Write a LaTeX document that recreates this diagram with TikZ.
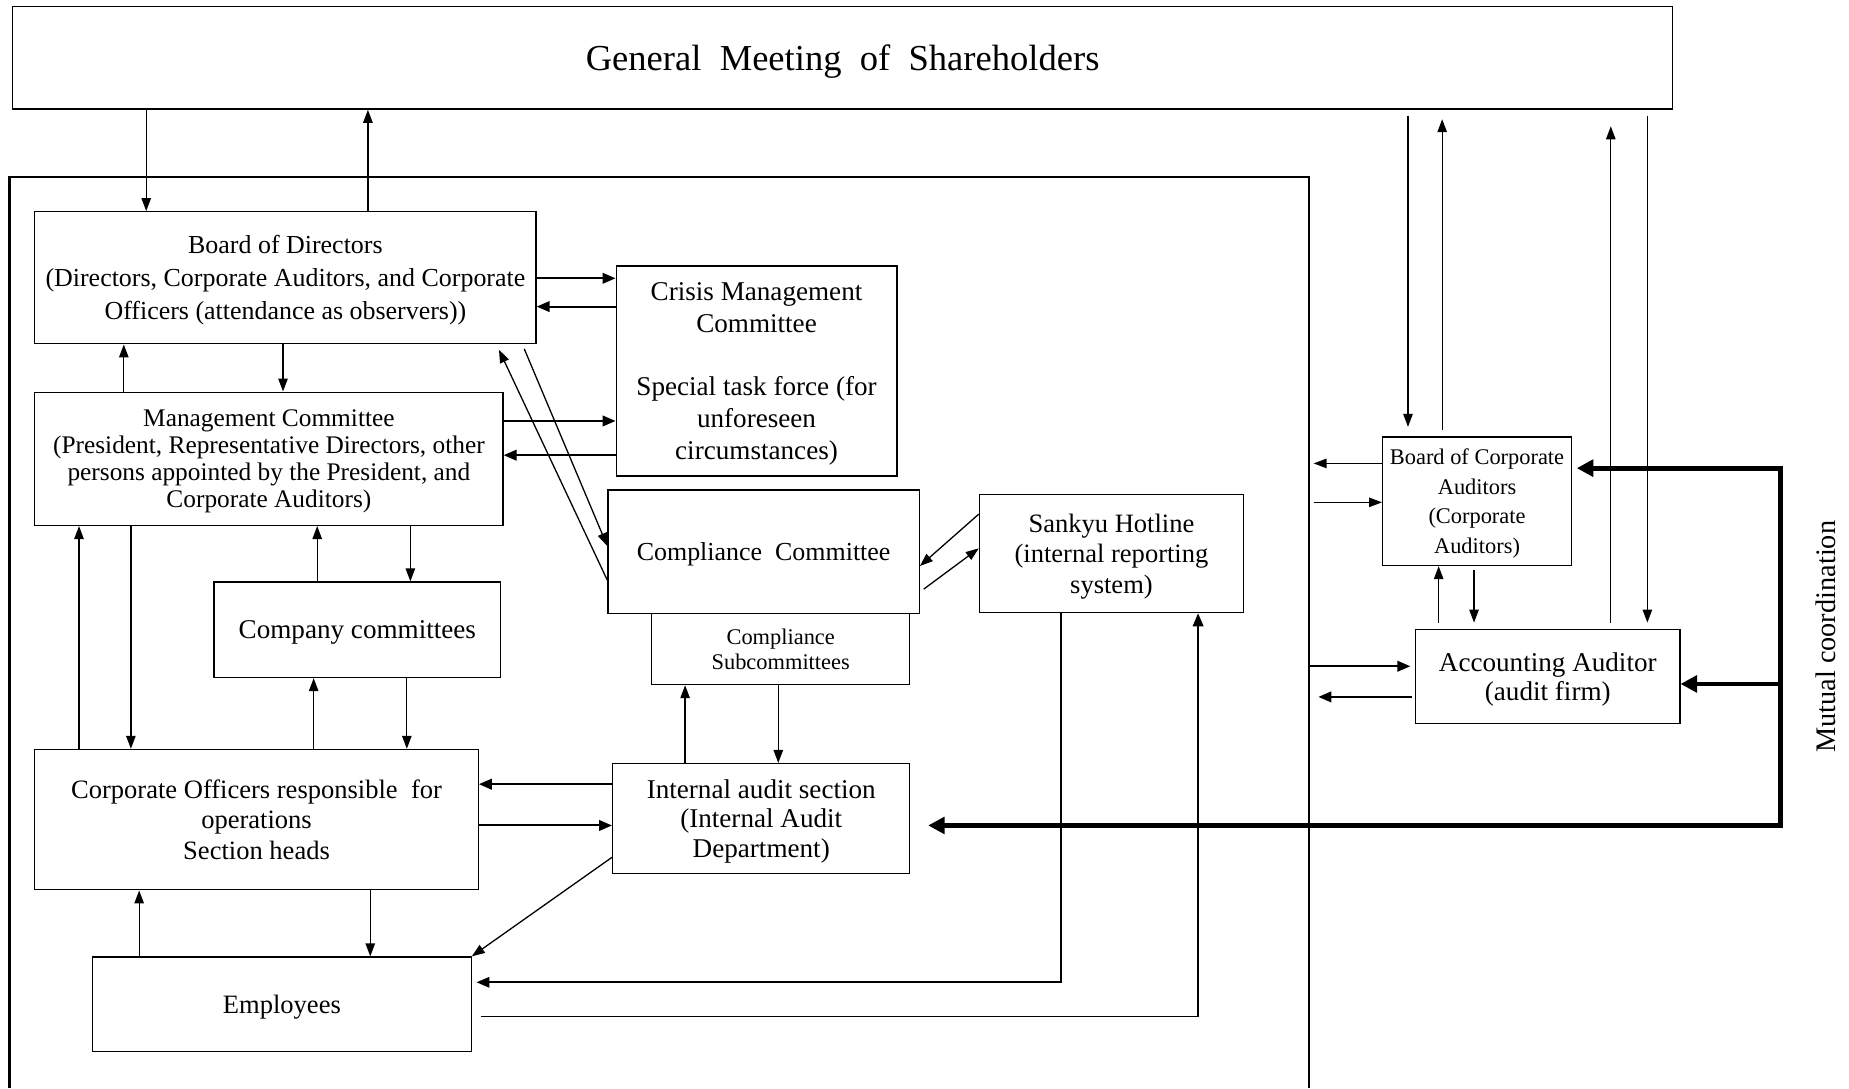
\documentclass[tikz,border=0pt]{standalone}
\usepackage{fontspec}
\setmainfont{Liberation Serif}
\usetikzlibrary{arrows.meta}
\newcommand{\myfs}[2]{\fontsize{#1}{#2}\selectfont}
\tikzset{
  box/.style={draw, line width=1.1pt, inner sep=0pt, align=center, anchor=north west, fill=white, text depth=0pt},
  arr/.style={line width=1.1pt, -{Triangle[length=11pt,width=8pt]}},
  harr/.style={line width=1.7pt, -{Triangle[length=11pt,width=9pt]}},
  larr/.style={line width=1.4pt, -{Triangle[length=11pt,width=9pt]}},
  tharr/.style={line width=4pt, -{Triangle[length=14pt,width=14pt]}},
}
\begin{document}
\begin{tikzpicture}[x=1pt,y=-1pt]
\useasboundingbox (0,0) rectangle (1568,923);

% outer company frame (open at the bottom)
\draw[line width=2pt] (8,923) -- (8,150) -- (1110,150) -- (1110,923);
\coordinate (obr) at (1110,150);

% nodes
\node[box, minimum width=1408, minimum height=87, font=\myfs{31}{36}] (gm) at (10,5) {General~ Meeting~ of~ Shareholders};
\node[box, minimum width=425, minimum height=112, font=\myfs{22}{28}] (board) at (29,179) {Board of Directors\\(Directors, Corporate Auditors, and Corporate\\Officers (attendance as observers))};
\node[box, minimum width=238, minimum height=178, font=\myfs{23}{27}] (crisis) at (522,225) {Crisis Management\\Committee\\[27pt]Special task force (for\\unforeseen\\circumstances)};
\node[box, minimum width=397, minimum height=113, font=\myfs{21.5}{23}] (mc) at (29,332) {Management Committee\\(President, Representative Directors, other\\persons appointed by the President, and\\Corporate Auditors)};
\node[box, minimum width=219, minimum height=60, font=\myfs{19}{22}] (sub) at (552,520) {Compliance\\Subcommittees};
\node[box, minimum width=264, minimum height=105, font=\myfs{22}{26}] (compl) at (515,415) {Compliance~ Committee};
\node[box, minimum width=224, minimum height=100, font=\myfs{22.5}{26}] (hot) at (830,419) {Sankyu Hotline\\(internal reporting\\system)};
\node[box, minimum width=243, minimum height=81, font=\myfs{23}{27}] (cc) at (181,493) {Company committees};
\node[box, minimum width=376, minimum height=119, font=\myfs{22.5}{25.5}] (co) at (29,635) {Corporate Officers responsible~ for\\operations\\Section heads};
\node[box, minimum width=252, minimum height=93, font=\myfs{23}{25}] (ia) at (519,647) {Internal audit section\\(Internal Audit\\Department)};
\node[box, minimum width=321, minimum height=80, font=\myfs{22.5}{26}] (emp) at (78,811) {Employees};
\node[box, minimum width=160, minimum height=109, font=\myfs{19}{25}] (bca) at (1172,370) {Board of Corporate\\Auditors\\(Corporate\\Auditors)};
\node[box, minimum width=224, minimum height=80, font=\myfs{23}{25}] (aa) at (1200,533) {Accounting Auditor\\(audit firm)};
\node[rotate=90, font=\myfs{24}{28}] (mut) at (1548,540) {Mutual coordination};

% shareholders <-> board
\draw[arr] (124,0 |- gm.south) -- (124,0 |- board.north);
\draw[arr] (312,0 |- board.north) -- (312,0 |- gm.south);
% board <-> crisis
\draw[harr] (board.east |- 0,236) -- (crisis.west |- 0,236);
\draw[harr] (crisis.west |- 0,260) -- (board.east |- 0,260);
% board <-> management committee
\draw[arr] (105,0 |- mc.north) -- (105,0 |- board.south);
\draw[arr] (240,0 |- board.south) -- (240,0 |- mc.north);
% mc <-> crisis
\draw[harr] (mc.east |- 0,357) -- (crisis.west |- 0,357);
\draw[harr] (crisis.west |- 0,386) -- (mc.east |- 0,386);
% board <-> compliance (diagonal)
\draw[arr, shorten >=5pt] (compl.west |- 0,492) -- (421,0 |- board.south);
\draw[arr, shorten <=4pt] (443,0 |- board.south) -- (compl.west |- 0,463);
% hotline <-> compliance
\draw[arr] (hot.west |- 0,436) -- (compl.east |- 0,480);
\draw[arr, shorten <=4pt] (compl.east |- 0,502) -- (hot.west |- 0,465);
% mc <-> company committees
\draw[arr] (269,0 |- cc.north) -- (269,0 |- mc.south);
\draw[arr] (348,0 |- mc.south) -- (348,0 |- cc.north);
% mc <-> corporate officers
\draw[arr] (67,0 |- co.north) -- (67,0 |- mc.south);
\draw[arr] (111,0 |- mc.south) -- (111,0 |- co.north);
% company committees <-> corporate officers
\draw[arr] (266,0 |- co.north) -- (266,0 |- cc.south);
\draw[arr] (345,0 |- cc.south) -- (345,0 |- co.north);
% internal audit <-> subcommittees
\draw[arr] (581,0 |- ia.north) -- (581,0 |- sub.south);
\draw[arr] (660,0 |- sub.south) -- (660,0 |- ia.north);
% internal audit <-> corporate officers
\draw[harr] (ia.west |- 0,665) -- (co.east |- 0,665);
\draw[harr] (co.east |- 0,700) -- (ia.west |- 0,700);
% internal audit -> employees
\draw[arr] (ia.west |- 0,727) -- (emp.north east);
% employees <-> corporate officers
\draw[arr] (118,0 |- emp.north) -- (118,0 |- co.south);
\draw[arr] (314,0 |- co.south) -- (314,0 |- emp.north);
% hotline <-> employees
\draw[larr, shorten >=4pt] (900,0 |- hot.south) |- (emp.east |- 0,833);
\draw[larr, shorten <=8pt] (emp.east |- 0,862) -| (1016,0 |- hot.south);
% shareholders <-> board of corporate auditors
\draw[arr, shorten <=5pt, shorten >=8pt] (1194,0 |- gm.south) -- (1194,0 |- bca.north);
\draw[arr, shorten <=5pt, shorten >=8pt] (1223,0 |- bca.north) -- (1223,0 |- gm.south);
% bca <-> company frame
\draw[arr, shorten >=4pt] (bca.west |- 0,393) -- (obr |- 0,393);
\draw[arr, shorten <=4pt] (obr |- 0,426) -- (bca.west |- 0,426);
% bca <-> accounting auditor
\draw[arr, shorten <=5pt] (1220,0 |- aa.north) -- (1220,0 |- bca.south);
\draw[arr, shorten <=3pt, shorten >=5pt] (1250,0 |- bca.south) -- (1250,0 |- aa.north);
% shareholders <-> accounting auditor
\draw[arr, shorten <=5pt, shorten >=14pt] (1366,0 |- aa.north) -- (1366,0 |- gm.south);
\draw[arr, shorten <=5pt, shorten >=5pt] (1397,0 |- gm.south) -- (1397,0 |- aa.north);
% company frame <-> accounting auditor
\draw[harr, shorten >=4pt] (obr |- 0,565) -- (aa.west |- 0,565);
\draw[harr, shorten <=3pt, shorten >=8pt] (aa.west |- 0,591) -- (obr |- 0,591);

% mutual coordination (thick)
\coordinate (mt) at (1510,397);
\coordinate (mb) at (1510,700);
\coordinate (mm) at (1510,580);
\draw[tharr, shorten >=4pt] (mb) -- (mt) -- (bca.east |- mt);
\draw[tharr, shorten >=15pt] (mt) -- (mb) -- (ia.east |- mb);
\draw[tharr] (mm) -- (aa.east |- mm);
\end{tikzpicture}
\end{document}
